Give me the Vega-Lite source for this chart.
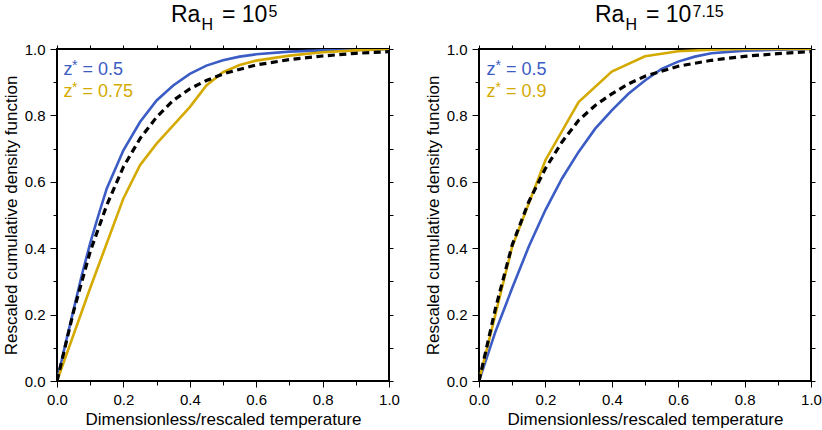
{
  "$schema": "https://vega.github.io/schema/vega-lite/v6.json",
  "padding": {"left": 1, "top": 3, "right": 2, "bottom": 0},
  "background": "white",
  "datasets": {
    "curves": [
      {"panel": "a", "series": "z05", "x": 0, "y": 0},
      {"panel": "a", "series": "z05", "x": 0.025, "y": 0.11},
      {"panel": "a", "series": "z05", "x": 0.05, "y": 0.215},
      {"panel": "a", "series": "z05", "x": 0.075, "y": 0.32},
      {"panel": "a", "series": "z05", "x": 0.1, "y": 0.415},
      {"panel": "a", "series": "z05", "x": 0.125, "y": 0.5},
      {"panel": "a", "series": "z05", "x": 0.15, "y": 0.58},
      {"panel": "a", "series": "z05", "x": 0.2, "y": 0.695},
      {"panel": "a", "series": "z05", "x": 0.25, "y": 0.78},
      {"panel": "a", "series": "z05", "x": 0.3, "y": 0.845},
      {"panel": "a", "series": "z05", "x": 0.35, "y": 0.89},
      {"panel": "a", "series": "z05", "x": 0.4, "y": 0.925},
      {"panel": "a", "series": "z05", "x": 0.45, "y": 0.95},
      {"panel": "a", "series": "z05", "x": 0.5, "y": 0.966},
      {"panel": "a", "series": "z05", "x": 0.55, "y": 0.977},
      {"panel": "a", "series": "z05", "x": 0.6, "y": 0.984},
      {"panel": "a", "series": "z05", "x": 0.7, "y": 0.992},
      {"panel": "a", "series": "z05", "x": 0.8, "y": 0.996},
      {"panel": "a", "series": "z05", "x": 0.9, "y": 0.998},
      {"panel": "a", "series": "z05", "x": 1.0, "y": 1.0},
      {"panel": "a", "series": "zb", "x": 0, "y": 0},
      {"panel": "a", "series": "zb", "x": 0.1, "y": 0.28},
      {"panel": "a", "series": "zb", "x": 0.2, "y": 0.55},
      {"panel": "a", "series": "zb", "x": 0.25, "y": 0.65},
      {"panel": "a", "series": "zb", "x": 0.3, "y": 0.715},
      {"panel": "a", "series": "zb", "x": 0.35, "y": 0.77},
      {"panel": "a", "series": "zb", "x": 0.4, "y": 0.825},
      {"panel": "a", "series": "zb", "x": 0.45, "y": 0.89},
      {"panel": "a", "series": "zb", "x": 0.5, "y": 0.93},
      {"panel": "a", "series": "zb", "x": 0.55, "y": 0.952},
      {"panel": "a", "series": "zb", "x": 0.6, "y": 0.965},
      {"panel": "a", "series": "zb", "x": 0.7, "y": 0.98},
      {"panel": "a", "series": "zb", "x": 0.8, "y": 0.99},
      {"panel": "a", "series": "zb", "x": 0.9, "y": 0.996},
      {"panel": "a", "series": "zb", "x": 1.0, "y": 1.0},
      {"panel": "a", "series": "ref", "x": 0, "y": 0},
      {"panel": "a", "series": "ref", "x": 0.05, "y": 0.21},
      {"panel": "a", "series": "ref", "x": 0.1, "y": 0.39},
      {"panel": "a", "series": "ref", "x": 0.15, "y": 0.53},
      {"panel": "a", "series": "ref", "x": 0.2, "y": 0.645},
      {"panel": "a", "series": "ref", "x": 0.25, "y": 0.73},
      {"panel": "a", "series": "ref", "x": 0.3, "y": 0.795},
      {"panel": "a", "series": "ref", "x": 0.35, "y": 0.845},
      {"panel": "a", "series": "ref", "x": 0.4, "y": 0.88},
      {"panel": "a", "series": "ref", "x": 0.45, "y": 0.905},
      {"panel": "a", "series": "ref", "x": 0.5, "y": 0.925},
      {"panel": "a", "series": "ref", "x": 0.6, "y": 0.952},
      {"panel": "a", "series": "ref", "x": 0.7, "y": 0.968},
      {"panel": "a", "series": "ref", "x": 0.8, "y": 0.979},
      {"panel": "a", "series": "ref", "x": 0.9, "y": 0.987},
      {"panel": "a", "series": "ref", "x": 1.0, "y": 0.992},
      {"panel": "b", "series": "z05", "x": 0, "y": 0},
      {"panel": "b", "series": "z05", "x": 0.05, "y": 0.15},
      {"panel": "b", "series": "z05", "x": 0.1, "y": 0.28},
      {"panel": "b", "series": "z05", "x": 0.15, "y": 0.405},
      {"panel": "b", "series": "z05", "x": 0.2, "y": 0.515},
      {"panel": "b", "series": "z05", "x": 0.25, "y": 0.61},
      {"panel": "b", "series": "z05", "x": 0.3, "y": 0.69},
      {"panel": "b", "series": "z05", "x": 0.35, "y": 0.76},
      {"panel": "b", "series": "z05", "x": 0.4, "y": 0.815},
      {"panel": "b", "series": "z05", "x": 0.45, "y": 0.865},
      {"panel": "b", "series": "z05", "x": 0.5, "y": 0.905},
      {"panel": "b", "series": "z05", "x": 0.55, "y": 0.94},
      {"panel": "b", "series": "z05", "x": 0.6, "y": 0.962},
      {"panel": "b", "series": "z05", "x": 0.65, "y": 0.977},
      {"panel": "b", "series": "z05", "x": 0.7, "y": 0.987},
      {"panel": "b", "series": "z05", "x": 0.8, "y": 0.995},
      {"panel": "b", "series": "z05", "x": 0.9, "y": 0.998},
      {"panel": "b", "series": "z05", "x": 1.0, "y": 1.0},
      {"panel": "b", "series": "zb", "x": 0, "y": 0},
      {"panel": "b", "series": "zb", "x": 0.1, "y": 0.405},
      {"panel": "b", "series": "zb", "x": 0.2, "y": 0.665},
      {"panel": "b", "series": "zb", "x": 0.3, "y": 0.84},
      {"panel": "b", "series": "zb", "x": 0.4, "y": 0.932},
      {"panel": "b", "series": "zb", "x": 0.5, "y": 0.978},
      {"panel": "b", "series": "zb", "x": 0.6, "y": 0.993},
      {"panel": "b", "series": "zb", "x": 0.7, "y": 0.998},
      {"panel": "b", "series": "zb", "x": 0.8, "y": 1.0},
      {"panel": "b", "series": "zb", "x": 1.0, "y": 1.0},
      {"panel": "b", "series": "ref", "x": 0, "y": 0},
      {"panel": "b", "series": "ref", "x": 0.05, "y": 0.22},
      {"panel": "b", "series": "ref", "x": 0.1, "y": 0.41},
      {"panel": "b", "series": "ref", "x": 0.15, "y": 0.54},
      {"panel": "b", "series": "ref", "x": 0.2, "y": 0.64},
      {"panel": "b", "series": "ref", "x": 0.25, "y": 0.72},
      {"panel": "b", "series": "ref", "x": 0.3, "y": 0.785},
      {"panel": "b", "series": "ref", "x": 0.35, "y": 0.83},
      {"panel": "b", "series": "ref", "x": 0.4, "y": 0.865},
      {"panel": "b", "series": "ref", "x": 0.45, "y": 0.895},
      {"panel": "b", "series": "ref", "x": 0.5, "y": 0.918},
      {"panel": "b", "series": "ref", "x": 0.6, "y": 0.948},
      {"panel": "b", "series": "ref", "x": 0.7, "y": 0.966},
      {"panel": "b", "series": "ref", "x": 0.8, "y": 0.978},
      {"panel": "b", "series": "ref", "x": 0.9, "y": 0.986},
      {"panel": "b", "series": "ref", "x": 1.0, "y": 0.992}
    ]
  },
  "spacing": 22,
  "hconcat": [
    {
      "width": 332,
      "height": 332,
      "resolve": {"axis": {"x": "independent", "y": "independent"}},
      "layer": [
        {
          "data": {"name": "curves"},
          "transform": [{"filter": "datum.panel === 'a' && datum.series === 'z05'"}],
          "mark": {"type": "line", "color": "#3b5cc4", "strokeWidth": 2.6, "clip": true},
          "encoding": {
            "x": {"field": "x", "type": "quantitative", "scale": {"domain": [0, 1], "nice": false},
              "axis": {"orient": "bottom", "title": "Dimensionless/rescaled temperature",
                "values": [0, 0.1, 0.2, 0.3, 0.4, 0.5, 0.6, 0.7, 0.8, 0.9, 1.0],
                "labelExpr": "round(datum.value*10) % 2 === 0 ? format(datum.value, '.1f') : ''",
                "tickSize": {"condition": {"test": "round(datum.value*10) % 2 === 0", "value": 6}, "value": 4}}},
            "y": {"field": "y", "type": "quantitative", "scale": {"domain": [0, 1], "nice": false},
              "axis": {"orient": "left", "title": "Rescaled cumulative density function",
                "values": [0, 0.1, 0.2, 0.3, 0.4, 0.5, 0.6, 0.7, 0.8, 0.9, 1.0],
                "labelExpr": "round(datum.value*10) % 2 === 0 ? format(datum.value, '.1f') : ''",
                "tickSize": {"condition": {"test": "round(datum.value*10) % 2 === 0", "value": 7}, "value": 4}}}
          }
        },
        {
          "data": {"name": "curves"},
          "transform": [{"filter": "datum.panel === 'a' && datum.series === 'zb'"}],
          "mark": {"type": "line", "color": "#d4aa00", "strokeWidth": 2.6, "clip": true},
          "encoding": {
            "x": {"field": "x", "type": "quantitative",
              "axis": {"orient": "top", "title": null, "labels": false, "tickSize": 4,
                "values": [0, 0.1, 0.2, 0.3, 0.4, 0.5, 0.6, 0.7, 0.8, 0.9, 1.0]}},
            "y": {"field": "y", "type": "quantitative",
              "axis": {"orient": "right", "title": null, "labels": false, "tickSize": 4,
                "values": [0, 0.1, 0.2, 0.3, 0.4, 0.5, 0.6, 0.7, 0.8, 0.9, 1.0]}}
          }
        },
        {
          "data": {"name": "curves"},
          "transform": [{"filter": "datum.panel === 'a' && datum.series === 'ref'"}],
          "mark": {"type": "line", "color": "black", "strokeWidth": 3.2, "strokeDash": [7, 4.5], "clip": true},
          "encoding": {
            "x": {"field": "x", "type": "quantitative", "axis": null},
            "y": {"field": "y", "type": "quantitative", "axis": null}
          }
        },
        {
          "data": {"values": [{}]},
          "mark": {"type": "text", "text": "Ra", "fontSize": 23, "align": "left", "baseline": "alphabetic", "dx": -52, "dy": -27, "color": "black"},
          "encoding": {"x": {"datum": 0.5, "type": "quantitative", "axis": null}, "y": {"datum": 1, "type": "quantitative", "axis": null}}
        },
        {
          "data": {"values": [{}]},
          "mark": {"type": "text", "text": "H", "fontSize": 16, "align": "left", "baseline": "alphabetic", "dx": -21.5, "dy": -18.7, "color": "black"},
          "encoding": {"x": {"datum": 0.5, "type": "quantitative", "axis": null}, "y": {"datum": 1, "type": "quantitative", "axis": null}}
        },
        {
          "data": {"values": [{}]},
          "mark": {"type": "text", "text": "= 10", "fontSize": 23, "align": "left", "baseline": "alphabetic", "dx": -1, "dy": -27, "color": "black"},
          "encoding": {"x": {"datum": 0.5, "type": "quantitative", "axis": null}, "y": {"datum": 1, "type": "quantitative", "axis": null}}
        },
        {
          "data": {"values": [{}]},
          "mark": {"type": "text", "text": "5", "fontSize": 16, "align": "left", "baseline": "alphabetic", "dx": 45.5, "dy": -32, "color": "black"},
          "encoding": {"x": {"datum": 0.5, "type": "quantitative", "axis": null}, "y": {"datum": 1, "type": "quantitative", "axis": null}}
        },
        {
          "data": {"values": [{}]},
          "mark": {"type": "text", "text": "z", "fontSize": 18, "align": "left", "baseline": "alphabetic", "dx": 6.5, "dy": 26, "color": "#3b5cc4"},
          "encoding": {"x": {"datum": 0, "type": "quantitative", "axis": null}, "y": {"datum": 1, "type": "quantitative", "axis": null}}
        },
        {
          "data": {"values": [{}]},
          "mark": {"type": "text", "text": "*", "fontSize": 14, "align": "left", "baseline": "alphabetic", "dx": 15, "dy": 20.5, "color": "#3b5cc4"},
          "encoding": {"x": {"datum": 0, "type": "quantitative", "axis": null}, "y": {"datum": 1, "type": "quantitative", "axis": null}}
        },
        {
          "data": {"values": [{}]},
          "mark": {"type": "text", "text": "= 0.5", "fontSize": 18, "align": "left", "baseline": "alphabetic", "dx": 25.5, "dy": 26, "color": "#3b5cc4"},
          "encoding": {"x": {"datum": 0, "type": "quantitative", "axis": null}, "y": {"datum": 1, "type": "quantitative", "axis": null}}
        },
        {
          "data": {"values": [{}]},
          "mark": {"type": "text", "text": "z", "fontSize": 18, "align": "left", "baseline": "alphabetic", "dx": 6.5, "dy": 48, "color": "#d4aa00"},
          "encoding": {"x": {"datum": 0, "type": "quantitative", "axis": null}, "y": {"datum": 1, "type": "quantitative", "axis": null}}
        },
        {
          "data": {"values": [{}]},
          "mark": {"type": "text", "text": "*", "fontSize": 14, "align": "left", "baseline": "alphabetic", "dx": 15, "dy": 42.5, "color": "#d4aa00"},
          "encoding": {"x": {"datum": 0, "type": "quantitative", "axis": null}, "y": {"datum": 1, "type": "quantitative", "axis": null}}
        },
        {
          "data": {"values": [{}]},
          "mark": {"type": "text", "text": "= 0.75", "fontSize": 18, "align": "left", "baseline": "alphabetic", "dx": 25.5, "dy": 48, "color": "#d4aa00"},
          "encoding": {"x": {"datum": 0, "type": "quantitative", "axis": null}, "y": {"datum": 1, "type": "quantitative", "axis": null}}
        }
      ]
    },
    {
      "width": 332,
      "height": 332,
      "resolve": {"axis": {"x": "independent", "y": "independent"}},
      "layer": [
        {
          "data": {"name": "curves"},
          "transform": [{"filter": "datum.panel === 'b' && datum.series === 'z05'"}],
          "mark": {"type": "line", "color": "#3b5cc4", "strokeWidth": 2.6, "clip": true},
          "encoding": {
            "x": {"field": "x", "type": "quantitative", "scale": {"domain": [0, 1], "nice": false},
              "axis": {"orient": "bottom", "title": "Dimensionless/rescaled temperature",
                "values": [0, 0.1, 0.2, 0.3, 0.4, 0.5, 0.6, 0.7, 0.8, 0.9, 1.0],
                "labelExpr": "round(datum.value*10) % 2 === 0 ? format(datum.value, '.1f') : ''",
                "tickSize": {"condition": {"test": "round(datum.value*10) % 2 === 0", "value": 6}, "value": 4}}},
            "y": {"field": "y", "type": "quantitative", "scale": {"domain": [0, 1], "nice": false},
              "axis": {"orient": "left", "title": "Rescaled cumulative density function",
                "values": [0, 0.1, 0.2, 0.3, 0.4, 0.5, 0.6, 0.7, 0.8, 0.9, 1.0],
                "labelExpr": "round(datum.value*10) % 2 === 0 ? format(datum.value, '.1f') : ''",
                "tickSize": {"condition": {"test": "round(datum.value*10) % 2 === 0", "value": 7}, "value": 4}}}
          }
        },
        {
          "data": {"name": "curves"},
          "transform": [{"filter": "datum.panel === 'b' && datum.series === 'zb'"}],
          "mark": {"type": "line", "color": "#d4aa00", "strokeWidth": 2.6, "clip": true},
          "encoding": {
            "x": {"field": "x", "type": "quantitative",
              "axis": {"orient": "top", "title": null, "labels": false, "tickSize": 4,
                "values": [0, 0.1, 0.2, 0.3, 0.4, 0.5, 0.6, 0.7, 0.8, 0.9, 1.0]}},
            "y": {"field": "y", "type": "quantitative",
              "axis": {"orient": "right", "title": null, "labels": false, "tickSize": 4,
                "values": [0, 0.1, 0.2, 0.3, 0.4, 0.5, 0.6, 0.7, 0.8, 0.9, 1.0]}}
          }
        },
        {
          "data": {"name": "curves"},
          "transform": [{"filter": "datum.panel === 'b' && datum.series === 'ref'"}],
          "mark": {"type": "line", "color": "black", "strokeWidth": 3.2, "strokeDash": [7, 4.5], "clip": true},
          "encoding": {
            "x": {"field": "x", "type": "quantitative", "axis": null},
            "y": {"field": "y", "type": "quantitative", "axis": null}
          }
        },
        {
          "data": {"values": [{}]},
          "mark": {"type": "text", "text": "Ra", "fontSize": 23, "align": "left", "baseline": "alphabetic", "dx": -50, "dy": -27, "color": "black"},
          "encoding": {"x": {"datum": 0.5, "type": "quantitative", "axis": null}, "y": {"datum": 1, "type": "quantitative", "axis": null}}
        },
        {
          "data": {"values": [{}]},
          "mark": {"type": "text", "text": "H", "fontSize": 16, "align": "left", "baseline": "alphabetic", "dx": -19.5, "dy": -18.7, "color": "black"},
          "encoding": {"x": {"datum": 0.5, "type": "quantitative", "axis": null}, "y": {"datum": 1, "type": "quantitative", "axis": null}}
        },
        {
          "data": {"values": [{}]},
          "mark": {"type": "text", "text": "= 10", "fontSize": 23, "align": "left", "baseline": "alphabetic", "dx": 1, "dy": -27, "color": "black"},
          "encoding": {"x": {"datum": 0.5, "type": "quantitative", "axis": null}, "y": {"datum": 1, "type": "quantitative", "axis": null}}
        },
        {
          "data": {"values": [{}]},
          "mark": {"type": "text", "text": "7.15", "fontSize": 16, "align": "left", "baseline": "alphabetic", "dx": 47.5, "dy": -32, "color": "black"},
          "encoding": {"x": {"datum": 0.5, "type": "quantitative", "axis": null}, "y": {"datum": 1, "type": "quantitative", "axis": null}}
        },
        {
          "data": {"values": [{}]},
          "mark": {"type": "text", "text": "z", "fontSize": 18, "align": "left", "baseline": "alphabetic", "dx": 7.5, "dy": 26, "color": "#3b5cc4"},
          "encoding": {"x": {"datum": 0, "type": "quantitative", "axis": null}, "y": {"datum": 1, "type": "quantitative", "axis": null}}
        },
        {
          "data": {"values": [{}]},
          "mark": {"type": "text", "text": "*", "fontSize": 14, "align": "left", "baseline": "alphabetic", "dx": 16.5, "dy": 20.5, "color": "#3b5cc4"},
          "encoding": {"x": {"datum": 0, "type": "quantitative", "axis": null}, "y": {"datum": 1, "type": "quantitative", "axis": null}}
        },
        {
          "data": {"values": [{}]},
          "mark": {"type": "text", "text": "= 0.5", "fontSize": 18, "align": "left", "baseline": "alphabetic", "dx": 27, "dy": 26, "color": "#3b5cc4"},
          "encoding": {"x": {"datum": 0, "type": "quantitative", "axis": null}, "y": {"datum": 1, "type": "quantitative", "axis": null}}
        },
        {
          "data": {"values": [{}]},
          "mark": {"type": "text", "text": "z", "fontSize": 18, "align": "left", "baseline": "alphabetic", "dx": 7.5, "dy": 48, "color": "#d4aa00"},
          "encoding": {"x": {"datum": 0, "type": "quantitative", "axis": null}, "y": {"datum": 1, "type": "quantitative", "axis": null}}
        },
        {
          "data": {"values": [{}]},
          "mark": {"type": "text", "text": "*", "fontSize": 14, "align": "left", "baseline": "alphabetic", "dx": 16.5, "dy": 42.5, "color": "#d4aa00"},
          "encoding": {"x": {"datum": 0, "type": "quantitative", "axis": null}, "y": {"datum": 1, "type": "quantitative", "axis": null}}
        },
        {
          "data": {"values": [{}]},
          "mark": {"type": "text", "text": "= 0.9", "fontSize": 18, "align": "left", "baseline": "alphabetic", "dx": 27, "dy": 48, "color": "#d4aa00"},
          "encoding": {"x": {"datum": 0, "type": "quantitative", "axis": null}, "y": {"datum": 1, "type": "quantitative", "axis": null}}
        }
      ]
    }
  ],
  "config": {
    "font": "Liberation Sans",
    "view": {"stroke": "black", "strokeWidth": 2},
    "axis": {
      "grid": false,
      "domain": false,
      "ticks": true,
      "tickColor": "black",
      "tickWidth": 1,
      "labelFont": "Liberation Sans",
      "labelFontSize": 15,
      "labelColor": "black",
      "labelFlush": false,
      "labelOverlap": false,
      "labelPadding": 5,
      "titleFont": "Liberation Sans",
      "titleFontSize": 17,
      "titleFontWeight": "normal",
      "titleColor": "black",
      "titlePadding": 4
    },
    "axisLeft": {"titlePadding": 4, "labelPadding": 5},
    "text": {"font": "Liberation Sans"}
  }
}
